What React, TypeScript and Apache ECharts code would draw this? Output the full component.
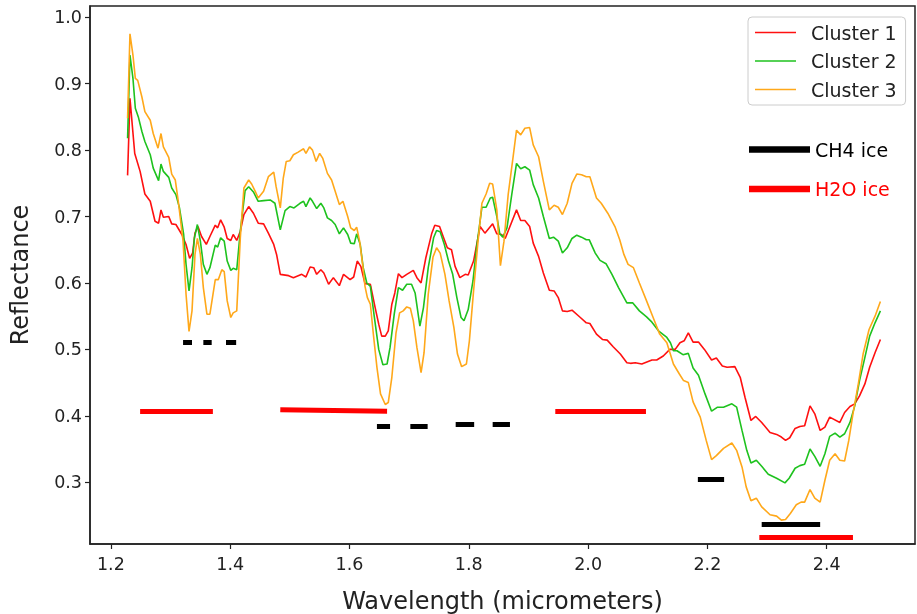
import React, { useEffect, useRef } from "react";
import * as echarts from "echarts";

const xTicks = [1.2, 1.4, 1.6, 1.8, 2.0, 2.2, 2.4];
const yTicks = [0.3, 0.4, 0.5, 0.6, 0.7, 0.8, 0.9, 1.0];

const seriesNames = ["Cluster 1", "Cluster 2", "Cluster 3"];

const cluster1 = [[1.228,0.762],[1.232,0.878],[1.240,0.795],[1.249,0.768],[1.257,0.734],[1.266,0.723],[1.274,0.693],[1.280,0.690],[1.284,0.710],[1.288,0.699],[1.297,0.700],[1.302,0.689],[1.309,0.688],[1.319,0.673],[1.326,0.658],[1.332,0.637],[1.337,0.645],[1.341,0.675],[1.346,0.685],[1.352,0.670],[1.360,0.658],[1.366,0.670],[1.375,0.687],[1.379,0.683],[1.384,0.695],[1.390,0.684],[1.395,0.667],[1.401,0.664],[1.405,0.673],[1.411,0.664],[1.417,0.678],[1.423,0.703],[1.431,0.715],[1.439,0.705],[1.447,0.690],[1.456,0.689],[1.464,0.675],[1.473,0.658],[1.478,0.642],[1.484,0.613],[1.498,0.611],[1.506,0.608],[1.520,0.613],[1.527,0.609],[1.534,0.624],[1.540,0.623],[1.545,0.613],[1.552,0.620],[1.557,0.615],[1.565,0.598],[1.573,0.608],[1.583,0.596],[1.590,0.613],[1.601,0.605],[1.607,0.609],[1.613,0.633],[1.619,0.625],[1.626,0.599],[1.635,0.598],[1.643,0.563],[1.649,0.538],[1.654,0.520],[1.660,0.520],[1.665,0.528],[1.671,0.568],[1.676,0.585],[1.682,0.614],[1.688,0.608],[1.696,0.613],[1.707,0.619],[1.713,0.608],[1.720,0.600],[1.728,0.638],[1.738,0.675],[1.743,0.687],[1.751,0.685],[1.757,0.670],[1.764,0.653],[1.771,0.650],[1.777,0.625],[1.785,0.608],[1.794,0.613],[1.799,0.612],[1.808,0.633],[1.819,0.685],[1.827,0.675],[1.840,0.689],[1.847,0.674],[1.855,0.673],[1.861,0.667],[1.880,0.710],[1.887,0.694],[1.894,0.694],[1.902,0.685],[1.908,0.660],[1.917,0.640],[1.925,0.615],[1.935,0.589],[1.943,0.588],[1.950,0.578],[1.957,0.558],[1.965,0.557],[1.973,0.559],[1.987,0.548],[1.997,0.540],[2.003,0.539],[2.014,0.523],[2.024,0.515],[2.032,0.514],[2.042,0.504],[2.054,0.493],[2.065,0.480],[2.071,0.479],[2.079,0.480],[2.090,0.478],[2.107,0.484],[2.115,0.484],[2.126,0.490],[2.137,0.500],[2.146,0.500],[2.154,0.510],[2.161,0.513],[2.168,0.525],[2.176,0.511],[2.185,0.511],[2.195,0.500],[2.207,0.484],[2.215,0.487],[2.225,0.475],[2.233,0.473],[2.246,0.474],[2.255,0.458],[2.263,0.428],[2.273,0.393],[2.281,0.399],[2.291,0.390],[2.305,0.375],[2.316,0.372],[2.324,0.368],[2.331,0.363],[2.338,0.367],[2.347,0.381],[2.355,0.384],[2.363,0.385],[2.372,0.415],[2.380,0.403],[2.389,0.378],[2.397,0.383],[2.405,0.398],[2.422,0.390],[2.430,0.405],[2.439,0.414],[2.447,0.418],[2.455,0.430],[2.464,0.448],[2.472,0.473],[2.481,0.495],[2.490,0.515]];

const cluster2 = [[1.228,0.818],[1.232,0.943],[1.237,0.908],[1.241,0.863],[1.246,0.850],[1.252,0.828],[1.257,0.813],[1.266,0.793],[1.271,0.773],[1.280,0.754],[1.284,0.779],[1.288,0.768],[1.297,0.759],[1.302,0.743],[1.309,0.733],[1.315,0.713],[1.322,0.673],[1.326,0.628],[1.331,0.588],[1.336,0.623],[1.340,0.668],[1.345,0.688],[1.350,0.663],[1.355,0.628],[1.361,0.613],[1.366,0.623],[1.375,0.657],[1.379,0.654],[1.384,0.668],[1.390,0.663],[1.395,0.633],[1.401,0.619],[1.405,0.622],[1.411,0.620],[1.417,0.678],[1.425,0.739],[1.431,0.745],[1.439,0.737],[1.447,0.723],[1.456,0.724],[1.467,0.725],[1.475,0.720],[1.484,0.680],[1.492,0.709],[1.500,0.715],[1.507,0.713],[1.517,0.720],[1.523,0.723],[1.527,0.715],[1.534,0.728],[1.538,0.723],[1.545,0.712],[1.552,0.720],[1.557,0.713],[1.563,0.698],[1.570,0.694],[1.576,0.688],[1.583,0.674],[1.590,0.683],[1.597,0.673],[1.602,0.660],[1.608,0.659],[1.612,0.674],[1.618,0.658],[1.623,0.623],[1.629,0.600],[1.635,0.595],[1.641,0.553],[1.649,0.500],[1.656,0.477],[1.663,0.478],[1.668,0.503],[1.675,0.553],[1.682,0.593],[1.689,0.589],[1.696,0.598],[1.704,0.598],[1.710,0.585],[1.718,0.535],[1.724,0.563],[1.732,0.623],[1.741,0.668],[1.746,0.679],[1.752,0.677],[1.759,0.658],[1.766,0.633],[1.773,0.613],[1.780,0.578],[1.787,0.548],[1.792,0.543],[1.799,0.560],[1.807,0.603],[1.813,0.653],[1.822,0.714],[1.829,0.714],[1.836,0.728],[1.840,0.729],[1.847,0.700],[1.852,0.674],[1.857,0.669],[1.864,0.683],[1.872,0.733],[1.880,0.780],[1.887,0.772],[1.894,0.775],[1.902,0.770],[1.908,0.748],[1.917,0.728],[1.925,0.700],[1.935,0.667],[1.942,0.669],[1.950,0.663],[1.957,0.645],[1.965,0.653],[1.973,0.667],[1.981,0.672],[1.989,0.669],[1.997,0.665],[2.002,0.665],[2.012,0.645],[2.020,0.634],[2.030,0.629],[2.040,0.613],[2.051,0.593],[2.065,0.570],[2.075,0.570],[2.086,0.558],[2.098,0.549],[2.107,0.541],[2.118,0.528],[2.132,0.518],[2.138,0.510],[2.143,0.498],[2.149,0.498],[2.159,0.492],[2.168,0.494],[2.176,0.472],[2.185,0.461],[2.196,0.433],[2.207,0.407],[2.217,0.413],[2.227,0.413],[2.241,0.418],[2.249,0.413],[2.258,0.378],[2.266,0.348],[2.273,0.329],[2.282,0.333],[2.291,0.324],[2.302,0.312],[2.316,0.306],[2.330,0.299],[2.337,0.306],[2.347,0.321],[2.355,0.325],[2.363,0.327],[2.372,0.350],[2.380,0.339],[2.389,0.324],[2.397,0.343],[2.405,0.369],[2.414,0.374],[2.422,0.368],[2.430,0.373],[2.439,0.390],[2.447,0.415],[2.455,0.453],[2.464,0.488],[2.472,0.520],[2.481,0.540],[2.490,0.558]];

const cluster3 = [[1.228,0.848],[1.232,0.975],[1.237,0.943],[1.241,0.908],[1.245,0.905],[1.252,0.880],[1.257,0.858],[1.266,0.845],[1.271,0.825],[1.279,0.803],[1.284,0.825],[1.288,0.805],[1.297,0.789],[1.302,0.764],[1.308,0.755],[1.313,0.723],[1.321,0.663],[1.326,0.583],[1.331,0.527],[1.336,0.558],[1.341,0.643],[1.345,0.667],[1.350,0.643],[1.355,0.593],[1.361,0.553],[1.366,0.553],[1.375,0.605],[1.380,0.605],[1.386,0.620],[1.390,0.617],[1.395,0.573],[1.401,0.548],[1.405,0.555],[1.411,0.558],[1.417,0.668],[1.423,0.743],[1.431,0.755],[1.436,0.749],[1.442,0.738],[1.447,0.728],[1.456,0.738],[1.464,0.760],[1.473,0.767],[1.477,0.745],[1.484,0.713],[1.489,0.758],[1.494,0.783],[1.500,0.784],[1.506,0.793],[1.514,0.797],[1.523,0.802],[1.527,0.795],[1.533,0.805],[1.538,0.800],[1.544,0.783],[1.550,0.795],[1.555,0.788],[1.563,0.765],[1.570,0.755],[1.576,0.738],[1.583,0.718],[1.589,0.723],[1.597,0.700],[1.602,0.683],[1.608,0.679],[1.612,0.684],[1.617,0.663],[1.622,0.628],[1.626,0.595],[1.630,0.578],[1.635,0.568],[1.640,0.523],[1.646,0.473],[1.652,0.433],[1.660,0.417],[1.665,0.420],[1.671,0.458],[1.678,0.525],[1.684,0.555],[1.690,0.558],[1.696,0.564],[1.702,0.562],[1.707,0.543],[1.713,0.503],[1.720,0.465],[1.725,0.495],[1.732,0.583],[1.740,0.639],[1.746,0.653],[1.752,0.645],[1.760,0.613],[1.767,0.573],[1.775,0.533],[1.781,0.493],[1.788,0.474],[1.796,0.478],[1.801,0.513],[1.808,0.588],[1.815,0.658],[1.822,0.720],[1.829,0.734],[1.835,0.750],[1.840,0.749],[1.847,0.710],[1.853,0.626],[1.859,0.663],[1.866,0.733],[1.874,0.788],[1.880,0.830],[1.887,0.823],[1.894,0.833],[1.902,0.834],[1.908,0.808],[1.917,0.790],[1.925,0.753],[1.935,0.710],[1.943,0.717],[1.950,0.714],[1.957,0.703],[1.965,0.720],[1.973,0.750],[1.981,0.764],[1.989,0.763],[1.997,0.760],[2.003,0.760],[2.014,0.728],[2.022,0.720],[2.033,0.705],[2.045,0.685],[2.053,0.665],[2.060,0.643],[2.067,0.628],[2.076,0.623],[2.086,0.600],[2.098,0.573],[2.109,0.548],[2.120,0.523],[2.132,0.510],[2.143,0.478],[2.153,0.463],[2.160,0.453],[2.168,0.450],[2.176,0.421],[2.188,0.398],[2.198,0.363],[2.207,0.334],[2.215,0.340],[2.227,0.351],[2.241,0.359],[2.249,0.348],[2.258,0.323],[2.265,0.293],[2.273,0.272],[2.282,0.276],[2.291,0.263],[2.305,0.251],[2.316,0.249],[2.324,0.243],[2.331,0.244],[2.339,0.253],[2.349,0.266],[2.357,0.270],[2.363,0.270],[2.372,0.289],[2.380,0.276],[2.389,0.270],[2.397,0.303],[2.405,0.333],[2.414,0.343],[2.422,0.333],[2.430,0.332],[2.437,0.363],[2.444,0.403],[2.453,0.448],[2.461,0.493],[2.471,0.530],[2.481,0.550],[2.490,0.572]];

// absorption band markers: [xStart, yStart, xEnd, yEnd]
const ch4Bands = [[1.321,0.510,1.336,0.510],[1.355,0.510,1.369,0.510],[1.393,0.510,1.410,0.510],[1.646,0.385,1.668,0.385],[1.702,0.385,1.731,0.385],[1.778,0.387,1.809,0.387],[1.840,0.387,1.869,0.387],[2.184,0.305,2.228,0.305],[2.291,0.236,2.389,0.236]];
const h2oBands = [[1.249,0.407,1.371,0.407],[1.484,0.409,1.663,0.407],[1.945,0.407,2.097,0.407],[2.287,0.217,2.444,0.217]];

const colors = ["#ff1010", "#1ec21e", "#ffa81a"];

export default function App() {
  const ref = useRef<HTMLDivElement>(null);
  useEffect(() => {
    const chart = echarts.init(ref.current!, null, { renderer: "svg" });
    const font = "DejaVu Sans";
    const ink = "#222";
    const clusterData = [cluster1, cluster2, cluster3];
    const lineSeries = clusterData.map((d, i) => ({
      type: "line",
      name: seriesNames[i],
      data: d,
      symbol: "none",
      showSymbol: false,
      lineStyle: { width: 1.6, color: colors[i] },
      itemStyle: { color: colors[i] },
      z: 2,
    }));
    const bandSeries = (name: string, bands: number[][], color: string) => ({
      type: "lines",
      name,
      coordinateSystem: "cartesian2d",
      data: bands.map((b) => ({ coords: [[b[0], b[1]], [b[2], b[3]]] })),
      lineStyle: { width: 5, color, cap: "butt", opacity: 1 },
      itemStyle: { color },
      z: 3,
    });
    chart.setOption({
      animation: false,
      textStyle: { fontFamily: font },
      grid: {
        left: 90, right: 2, top: 6, bottom: 70,
        outerBoundsMode: "none",
        containLabel: false,
        show: true, borderColor: ink, borderWidth: 1.5,
      },
      xAxis: {
        type: "value",
        min: 1.165,
        max: 2.548,
        name: "Wavelength (micrometers)",
        nameLocation: "middle",
        nameGap: 45,
        nameTextStyle: { fontSize: 24, color: ink, fontFamily: font },
        axisLine: { show: true, lineStyle: { color: ink, width: 1.5 } },
        axisTick: { show: true, length: 5, lineStyle: { color: ink, width: 1.2 }, customValues: xTicks },
        axisLabel: {
          customValues: xTicks, margin: 11, fontSize: 17.5, color: ink, fontFamily: font,
          formatter: (v: number) => v.toFixed(1),
        },
        splitLine: { show: false },
      },
      yAxis: {
        type: "value",
        min: 0.207,
        max: 1.017,
        name: "Reflectance",
        nameLocation: "middle",
        nameGap: 58,
        nameTextStyle: { fontSize: 24, color: ink, fontFamily: font },
        axisLine: { show: true, lineStyle: { color: ink, width: 1.5 } },
        axisTick: { show: true, length: 5, lineStyle: { color: ink, width: 1.2 }, customValues: yTicks },
        axisLabel: {
          customValues: yTicks, margin: 8, fontSize: 17.5, color: ink, fontFamily: font,
          formatter: (v: number) => v.toFixed(1),
        },
        splitLine: { show: false },
      },
      legend: [
        {
          data: seriesNames.map((n, i) => ({ name: n, icon: "rect", itemStyle: { color: colors[i] } })),
          orient: "vertical",
          left: 748,
          top: 17,
          padding: [6, 9, 6, 7],
          itemWidth: 41,
          itemHeight: 1.6,
          itemGap: 9.5,
          borderColor: "#cccccc",
          borderWidth: 1,
          borderRadius: 4,
          backgroundColor: "#fff",
          textStyle: { fontSize: 19, color: ink, fontFamily: font, padding: [0, 0, 0, 10] },
        },
        {
          data: [
            { name: "CH4 ice", icon: "rect", itemStyle: { color: "#000" } },
            { name: "H2O ice", icon: "rect", itemStyle: { color: "#ff0000" }, textStyle: { color: "#ff0000" } },
          ],
          orient: "vertical",
          left: 749,
          top: 140,
          padding: 0,
          itemWidth: 59,
          itemHeight: 4.5,
          itemGap: 20.5,
          textStyle: { fontSize: 19, color: "#000", fontFamily: font, padding: [0, 0, 0, 1] },
        },
      ],
      series: [
        ...lineSeries,
        bandSeries("CH4 ice", ch4Bands, "#000000"),
        bandSeries("H2O ice", h2oBands, "#ff0000"),
      ],
    });
    return () => chart.dispose();
  }, []);
  return <div ref={ref} style={{ position: "fixed", left: 0, top: 0, width: 917, height: 614 }} />;
}
